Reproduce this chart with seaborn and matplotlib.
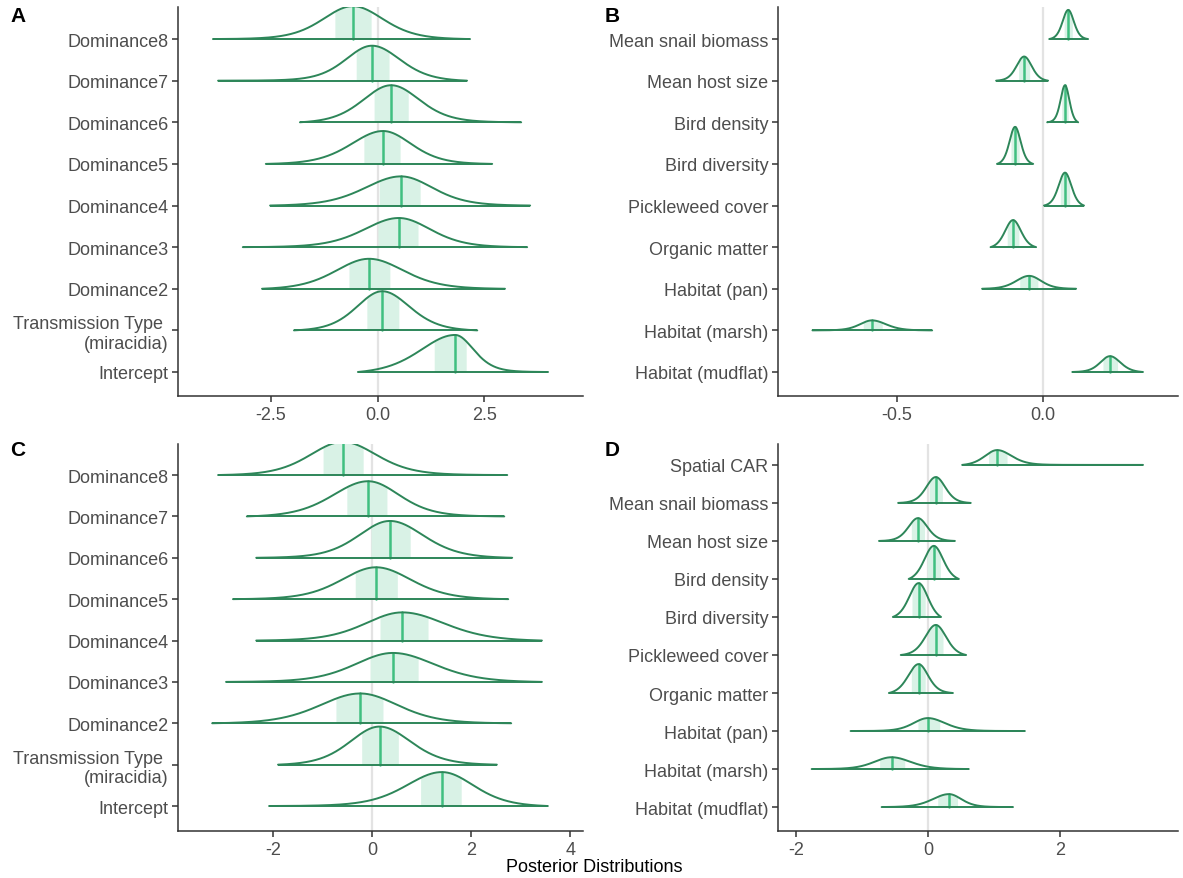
import numpy as np
import pandas as pd
import matplotlib
matplotlib.use("Agg")
import matplotlib.pyplot as plt
import seaborn as sns

sns.set_theme(style="ticks")
plt.rcParams["font.family"] = ["Liberation Sans", "DejaVu Sans"]

# ---- data (rows listed bottom to top) ----
dom_labels = ["Intercept", "Transmission Type \n(miracidia)", "Dominance2", "Dominance3",
              "Dominance4", "Dominance5", "Dominance6", "Dominance7", "Dominance8"]

a_med = [1.82, 0.11, -0.20, 0.50, 0.55, 0.13, 0.32, -0.13, -0.58]
a_lo50 = [1.33, -0.25, -0.67, 0.01, 0.04, -0.32, -0.08, -0.50, -1.00]
a_hi50 = [2.08, 0.50, 0.29, 0.95, 1.00, 0.53, 0.72, 0.27, -0.15]
a_lo = [-0.46, -1.96, -2.71, -3.16, -2.52, -2.62, -1.82, -3.74, -3.86]
a_hi = [4.00, 2.34, 2.99, 3.51, 3.58, 2.69, 3.37, 2.10, 2.17]
a_peak = [0.89, 0.94, 0.72, 0.70, 0.70, 0.79, 0.89, 0.84, 0.79]

c_med = [1.41, 0.15, -0.24, 0.42, 0.61, 0.08, 0.36, -0.08, -0.59]
c_lo50 = [0.98, -0.21, -0.73, -0.04, 0.16, -0.34, -0.02, -0.51, -0.99]
c_hi50 = [1.80, 0.53, 0.22, 0.93, 1.13, 0.51, 0.77, 0.30, -0.18]
c_lo = [-2.08, -1.90, -3.23, -2.95, -2.34, -2.81, -2.34, -2.53, -3.11]
c_hi = [3.55, 2.52, 2.81, 3.43, 3.43, 2.75, 2.83, 2.67, 2.73]
c_peak = [0.82, 0.92, 0.72, 0.70, 0.68, 0.77, 0.89, 0.85, 0.80]

env_labels = ["Habitat (mudflat)", "Habitat (marsh)", "Habitat (pan)", "Organic matter",
              "Pickleweed cover", "Bird diversity", "Bird density", "Mean host size",
              "Mean snail biomass"]

b_med = [0.229, -0.586, -0.048, -0.103, 0.075, -0.096, 0.075, -0.065, 0.086]
b_lo50 = [0.205, -0.616, -0.080, -0.123, 0.059, -0.110, 0.064, -0.084, 0.072]
b_hi50 = [0.255, -0.551, -0.018, -0.083, 0.091, -0.082, 0.086, -0.046, 0.100]
b_lo = [0.100, -0.790, -0.209, -0.180, 0.003, -0.158, 0.014, -0.161, 0.021]
b_hi = [0.342, -0.380, 0.113, -0.024, 0.140, -0.034, 0.120, 0.017, 0.154]
b_peak = [0.38, 0.24, 0.31, 0.65, 0.79, 0.89, 0.89, 0.58, 0.70]

d_labels = env_labels + ["Spatial CAR"]
d_med = [0.32, -0.55, 0.00, -0.14, 0.12, -0.14, 0.09, -0.15, 0.12, 1.05]
d_lo50 = [0.15, -0.73, -0.15, -0.25, 0.01, -0.24, -0.01, -0.25, 0.02, 0.92]
d_hi50 = [0.45, -0.35, 0.18, -0.04, 0.23, -0.04, 0.19, -0.05, 0.22, 1.20]
d_lo = [-0.70, -1.76, -1.17, -0.59, -0.41, -0.53, -0.29, -0.74, -0.45, 0.52]
d_hi = [1.29, 0.62, 1.47, 0.38, 0.58, 0.20, 0.47, 0.41, 0.65, 3.26]
d_peak = [0.34, 0.31, 0.34, 0.76, 0.79, 0.89, 0.87, 0.60, 0.68, 0.39]

# bayesplot green scheme
light = "#d9f2e6"
mid_hi = "#40bf80"
dark = "#2d8659"

W, H = 1183, 879
fig = plt.figure(figsize=(W / 100, H / 100), dpi=100)


def add_ax(left, right, top, bottom):
    return fig.add_axes([left / W, 1 - bottom / H, (right - left) / W, (bottom - top) / H])


def ridge_curve(med, lo50, hi50, lo, hi, peak, spread, df=8):
    # smooth split density outline, scaled to the peak height
    x = np.sort(np.append(np.linspace(lo, hi, 500), [med, lo50, hi50]))
    left = x < med
    s = np.where(left, (med - lo50), (hi50 - med)) / 0.7 * spread
    f = lambda z: (1 + z ** 2 / df) ** (-(df + 1) / 2)
    y = f((x - med) / s)
    # taper each side so the outline meets the baseline at the range ends
    end_l = f((lo - med) / ((med - lo50) / 0.7 * spread))
    end_r = f((hi - med) / ((hi50 - med) / 0.7 * spread))
    end = np.where(left, end_l, end_r)
    y = np.clip((y - end) / (1 - end), 0, None)
    return x, peak * y


def draw(ax, labels, med, lo50, hi50, lo, hi, peak, xlim, ylim, ticks, ticklabels, spread):
    ax.axvline(0, color="#e3e3e3", lw=1.6, zorder=0)
    frames = []
    for i, lab in enumerate(labels):
        x, y = ridge_curve(med[i], lo50[i], hi50[i], lo[i], hi[i], peak[i], spread)
        m = (x >= lo50[i]) & (x <= hi50[i])
        ax.fill_between(x[m], i, y[m] + i, color=light, lw=0, zorder=1)
        ym = y[np.argmin(np.abs(x - med[i]))]
        ax.plot([med[i], med[i]], [i, i + ym], color=mid_hi, lw=1.8, zorder=2)
        frames.append(pd.DataFrame({"param": lab, "x": x, "y": y + i}))
    df = pd.concat(frames, ignore_index=True)
    sns.lineplot(data=df, x="x", y="y", units="param", estimator=None, sort=False,
                 color=dark, lw=1.4, ax=ax, zorder=3)
    ax.hlines(range(len(labels)), lo, hi, color=dark, lw=1.4, zorder=3)
    ax.set_xlim(*xlim)
    ax.set_ylim(*ylim)
    ax.set_yticks(range(len(labels)))
    ax.set_yticklabels(labels)
    ax.set_xticks(ticks)
    ax.set_xticklabels(ticklabels)
    ax.set_xlabel("")
    ax.set_ylabel("")
    sns.despine(ax=ax)
    for s in ["left", "bottom"]:
        ax.spines[s].set_color("#333333")
        ax.spines[s].set_linewidth(1.1)
    ax.tick_params(axis="both", colors="#333333", length=4, width=1.1,
                   labelsize=13, labelcolor="#4d4d4d", pad=3)


ax_a = add_ax(178, 583, 8, 397)
draw(ax_a, dom_labels, a_med, a_lo50, a_hi50, a_lo, a_hi, a_peak,
     (-4.68, 4.82), (-0.577, 8.77), [-2.5, 0, 2.5], ["-2.5", "0.0", "2.5"], 1.2)

ax_b = add_ax(778, 1178, 8, 397)
draw(ax_b, env_labels, b_med, b_lo50, b_hi50, b_lo, b_hi, b_peak,
     (-0.908, 0.462), (-0.577, 8.77), [-0.5, 0], ["-0.5", "0.0"], 1.0)

ax_c = add_ax(178, 583, 445, 832)
draw(ax_c, dom_labels, c_med, c_lo50, c_hi50, c_lo, c_hi, c_peak,
     (-3.92, 4.26), (-0.604, 8.75), [-2, 0, 2, 4], ["-2", "0", "2", "4"], 1.2)

ax_d = add_ax(778, 1178, 445, 832)
draw(ax_d, d_labels, d_med, d_lo50, d_hi50, d_lo, d_hi, d_peak,
     (-2.27, 3.79), (-0.63, 9.55), [-2, 0, 2], ["-2", "0", "2"], 1.05)

for letter, px, py in [("A", 18, 17), ("B", 612, 17), ("C", 18, 451), ("D", 612, 451)]:
    fig.text(px / W, 1 - py / H, letter, fontsize=15, fontweight="bold",
             ha="center", va="center", color="black")

fig.text(594 / W, 1 - 868 / H, "Posterior Distributions", fontsize=13,
         ha="center", va="center", color="black")

fig.savefig("out.png", dpi=100)
